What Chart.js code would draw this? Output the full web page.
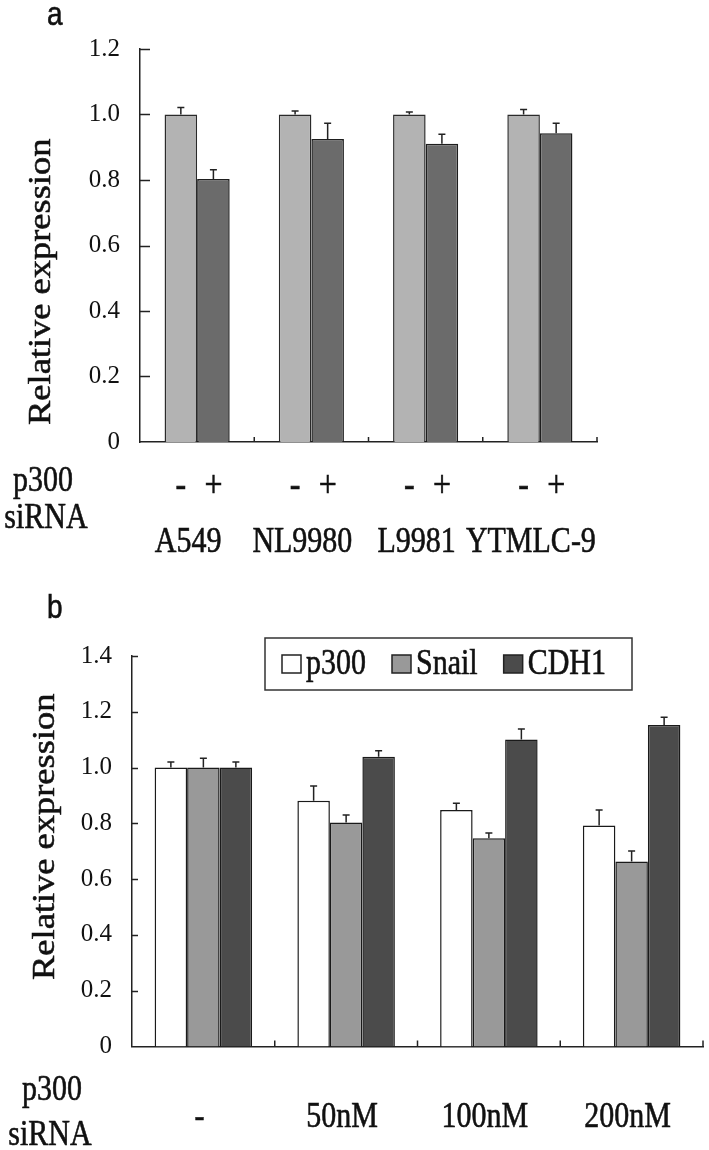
<!DOCTYPE html>
<html>
<head>
<meta charset="utf-8">
<script src="https://cdn.jsdelivr.net/npm/chart.js@4/dist/chart.umd.min.js"></script>
<style>
  html, body { margin: 0; padding: 0; background: #fff; }
  #wrap { position: relative; width: 709px; height: 1150px; }
  .panel { position: absolute; left: 0; width: 709px; }
  #pa { top: 0; height: 580px; }
  #pb { top: 580px; height: 570px; }
</style>
</head>
<body>
<div id="wrap">
  <div class="panel" id="pa"><canvas id="ca"></canvas></div>
  <div class="panel" id="pb"><canvas id="cb"></canvas></div>
</div>
<script>
// ---------- Panel a data ----------
const categoriesA = ['A549', 'NL9980', 'L9981', 'YTMLC-9'];
const controlA = [1.0, 1.0, 1.0, 1.0];
const controlErrA = [0.021, 0.011, 0.008, 0.015];
const sirnaA = [0.803, 0.925, 0.911, 0.943];
const sirnaErrA = [0.028, 0.048, 0.029, 0.030];
const signsA = ['-', '+'];
const yTicksA = [0, 0.2, 0.4, 0.6, 0.8, 1.0, 1.2];

// ---------- Panel b data ----------
const categoriesB = ['-', '50nM', '100nM', '200nM'];
const seriesNamesB = ['p300', 'Snail', 'CDH1'];
const p300B = [1.0, 0.881, 0.848, 0.792];
const p300ErrB = [0.020, 0.053, 0.024, 0.056];
const snailB = [1.0, 0.803, 0.747, 0.663];
const snailErrB = [0.033, 0.027, 0.018, 0.038];
const cdh1B = [1.0, 1.039, 1.101, 1.153];
const cdh1ErrB = [0.020, 0.021, 0.037, 0.027];
const yTicksB = [0, 0.2, 0.4, 0.6, 0.8, 1.0, 1.2, 1.4];

const SERIF = '"Liberation Serif", "Times New Roman", serif';
const SANS = '"Liberation Sans", Arial, sans-serif';
const INK = '#111';
const SY = 1.2; // reference glyphs are taller than wide

function fmtTick(v) { return v === 0 ? '0' : v.toFixed(1); }

function txt(ctx, s, x, y, size, family, align, baseline, rot) {
  ctx.save();
  ctx.translate(x, y);
  if (rot) { ctx.rotate(-Math.PI / 2); ctx.scale(SY * 0.98, 1.05); }
  else ctx.scale(1, SY);
  ctx.font = size + 'px ' + family;
  ctx.textAlign = align;
  ctx.textBaseline = baseline;
  ctx.fillStyle = INK;
  ctx.strokeStyle = INK;
  ctx.lineWidth = 0.5;
  ctx.fillText(s, 0, 0);
  ctx.strokeText(s, 0, 0);
  ctx.restore();
}

// shared plugin: inward ticks, category ticks, error bars
function decoPlugin(cfg) {
  return {
    id: 'deco',
    afterDatasetsDraw(chart) {
      const ctx = chart.ctx;
      const ca = chart.chartArea;
      const ys = chart.scales.y, xs = chart.scales.x;
      ctx.save();
      ctx.strokeStyle = '#222';
      ctx.lineWidth = 1.5;
      cfg.yTicks.forEach(v => {
        if (v === 0) return;
        const y = Math.round(ys.getPixelForValue(v)) + 0.5;
        ctx.beginPath(); ctx.moveTo(ca.left, y); ctx.lineTo(ca.left + cfg.yTickLen, y); ctx.stroke();
      });
      const n = chart.data.labels.length;
      const step = xs.getPixelForValue(1) - xs.getPixelForValue(0);
      for (let i = 0; i < n; i++) {
        const x = xs.getPixelForValue(i) + step / 2;
        ctx.beginPath(); ctx.moveTo(x, ca.bottom); ctx.lineTo(x, ca.bottom - cfg.xTickLen); ctx.stroke();
      }
      chart.data.datasets.forEach((ds, di) => {
        const meta = chart.getDatasetMeta(di);
        meta.data.forEach((bar, i) => {
          const top = ys.getPixelForValue(ds.data[i] + ds.errs[i]);
          const x = bar.x;
          ctx.beginPath();
          ctx.moveTo(x, bar.y); ctx.lineTo(x, top);
          ctx.moveTo(x - cfg.cap, top); ctx.lineTo(x + cfg.cap, top);
          ctx.stroke();
        });
      });
      ctx.restore();
    }
  };
}

// ---------- Chart a ----------
const textA = {
  id: 'textA',
  afterDraw(chart) {
    const ctx = chart.ctx;
    const xs = chart.scales.x;
    txt(ctx, 'a', 47, 25, 28, SANS, 'left', 'alphabetic');
    txt(ctx, 'Relative expression', 41, 425, 31, SERIF, 'left', 'middle', true);
    txt(ctx, 'p300', 43, 491, 30, SERIF, 'center', 'alphabetic');
    txt(ctx, 'siRNA', 46, 528, 30, SERIF, 'center', 'alphabetic');
    chart.data.datasets.forEach((ds, di) => {
      chart.getDatasetMeta(di).data.forEach(bar => {
        txt(ctx, signsA[di], bar.x, 487, 32, SERIF, 'center', 'middle');
      });
    });
    categoriesA.forEach((c, i) => {
      txt(ctx, c, xs.getPixelForValue(i) - 9, 552, 30, SERIF, 'center', 'alphabetic');
    });
  }
};

new Chart(document.getElementById('ca'), {
  type: 'bar',
  data: {
    labels: categoriesA,
    datasets: [
      { label: 'control', data: controlA, errs: controlErrA, backgroundColor: '#b3b3b3', borderColor: '#2a2a2a', borderWidth: 1.5 },
      { label: 'p300 siRNA', data: sirnaA, errs: sirnaErrA, backgroundColor: '#6b6b6b', borderColor: '#1e1e1e', borderWidth: 1.5 }
    ]
  },
  options: {
    responsive: true, maintainAspectRatio: false, animation: false,
    layout: { padding: { top: 49, right: 112, left: 0, bottom: 0 } },
    datasets: { bar: { categoryPercentage: 0.57, barPercentage: 1.0 } },
    plugins: { legend: { display: false }, tooltip: { enabled: false } },
    scales: {
      x: {
        type: 'category', offset: true,
        grid: { display: false, drawTicks: false },
        border: { display: true, color: '#222', width: 1.5 },
        ticks: { display: false },
        afterFit(s) { s.height = 138; }
      },
      y: {
        min: 0, max: 1.2,
        afterBuildTicks(s) { s.ticks = yTicksA.map(v => ({ value: v })); },
        grid: { display: false, drawTicks: false },
        border: { display: true, color: '#222', width: 1.5 },
        ticks: { font: { family: SERIF, size: 25 }, color: INK, padding: 20, callback: fmtTick },
        afterFit(s) { s.width = 140; }
      }
    }
  },
  plugins: [decoPlugin({ yTicks: yTicksA, yTickLen: 10, xTickLen: 5, cap: 3.5 }), textA]
});

// ---------- Chart b ----------
const textB = {
  id: 'textB',
  afterDraw(chart) {
    const ctx = chart.ctx;
    const xs = chart.scales.x;
    txt(ctx, 'b', 47, 38, 28, SANS, 'left', 'alphabetic');
    txt(ctx, 'Relative expression', 45, 400, 31, SERIF, 'left', 'middle', true);
    txt(ctx, 'p300', 52, 520, 30, SERIF, 'center', 'alphabetic');
    txt(ctx, 'siRNA', 50, 565, 30, SERIF, 'center', 'alphabetic');
    categoriesB.forEach((c, i) => {
      txt(ctx, c, xs.getPixelForValue(i) - 4, 547, 30, SERIF, 'center', 'alphabetic');
    });
    // legend
    const box = { l: 265, t: 58, r: 632, b: 110 };
    ctx.save();
    ctx.fillStyle = '#fff';
    ctx.fillRect(box.l, box.t, box.r - box.l, box.b - box.t);
    ctx.strokeStyle = '#333'; ctx.lineWidth = 1.5;
    ctx.strokeRect(box.l, box.t, box.r - box.l, box.b - box.t);
    const cy = (box.t + box.b) / 2;
    let x = box.l + 17;
    ctx.font = '30px ' + SERIF;
    chart.data.datasets.forEach(ds => {
      ctx.fillStyle = ds.backgroundColor;
      ctx.fillRect(x, cy - 9, 19, 18);
      ctx.strokeStyle = '#222'; ctx.lineWidth = 1.5;
      ctx.strokeRect(x, cy - 9, 19, 18);
      x += 24;
      txt(ctx, ds.label, x, cy + 1, 30, SERIF, 'left', 'middle');
      ctx.font = '30px ' + SERIF;
      x += ctx.measureText(ds.label).width + 26;
    });
    ctx.restore();
  }
};

new Chart(document.getElementById('cb'), {
  type: 'bar',
  data: {
    labels: categoriesB,
    datasets: [
      { label: seriesNamesB[0], data: p300B, errs: p300ErrB, backgroundColor: '#ffffff', borderColor: '#1a1a1a', borderWidth: 1.5 },
      { label: seriesNamesB[1], data: snailB, errs: snailErrB, backgroundColor: '#999999', borderColor: '#1a1a1a', borderWidth: 1.5 },
      { label: seriesNamesB[2], data: cdh1B, errs: cdh1ErrB, backgroundColor: '#4b4b4b', borderColor: '#1a1a1a', borderWidth: 1.5 }
    ]
  },
  options: {
    responsive: true, maintainAspectRatio: false, animation: false,
    layout: { padding: { top: 76, right: 6, left: 0, bottom: 0 } },
    datasets: { bar: { categoryPercentage: 0.683, barPercentage: 1.0 } },
    plugins: { legend: { display: false }, tooltip: { enabled: false } },
    scales: {
      x: {
        type: 'category', offset: true,
        grid: { display: false, drawTicks: false },
        border: { display: true, color: '#222', width: 1.5 },
        ticks: { display: false },
        afterFit(s) { s.height = 103.5; }
      },
      y: {
        min: 0, max: 1.4,
        afterBuildTicks(s) { s.ticks = yTicksB.map(v => ({ value: v })); },
        grid: { display: false, drawTicks: false },
        border: { display: true, color: '#222', width: 1.5 },
        ticks: { font: { family: SERIF, size: 25 }, color: INK, padding: 20, callback: fmtTick },
        afterFit(s) { s.width = 132; }
      }
    }
  },
  plugins: [decoPlugin({ yTicks: yTicksB, yTickLen: 6, xTickLen: 6, cap: 3.5 }), textB]
});
</script>
</body>
</html>
